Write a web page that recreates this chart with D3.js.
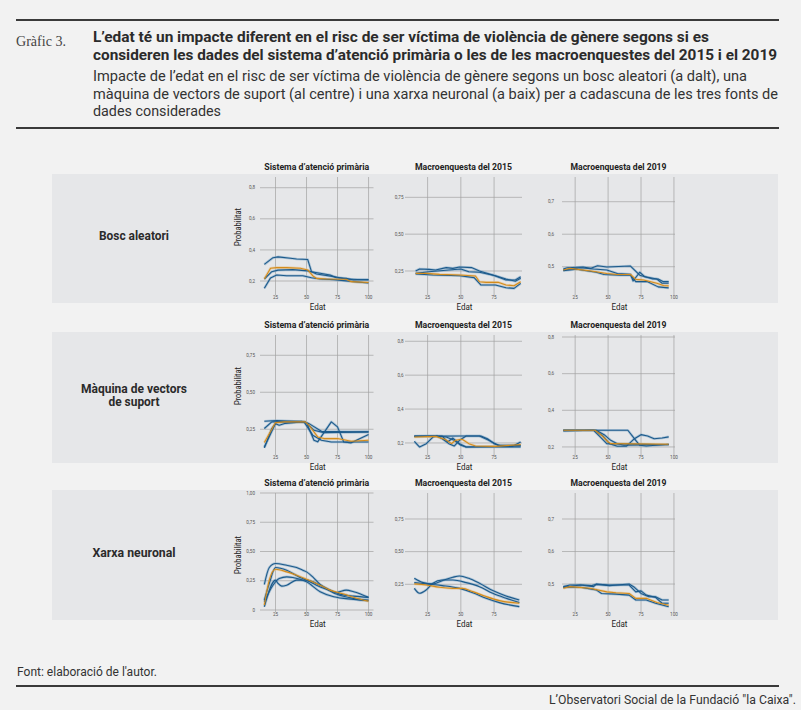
<!DOCTYPE html>
<html>
<head>
<meta charset="utf-8">
<script src="https://cdn.jsdelivr.net/npm/d3@7"></script>
<style>
  body { margin: 0; background: #f2f2f2; }
  svg { display: block; }
</style>
</head>
<body>
<div id="chart"></div>
<script>
// ---- texts ----
const titleLines = [
  "L’edat té un impacte diferent en el risc de ser víctima de violència de gènere segons si es",
  "consideren les dades del sistema d’atenció primària o les de les macroenquestes del 2015 i el 2019"
];
const subtitleLines = [
  "Impacte de l’edat en el risc de ser víctima de violència de gènere segons un bosc aleatori (a dalt), una",
  "màquina de vectors de suport (al centre) i una xarxa neuronal (a baix) per a cadascuna de les tres fonts de",
  "dades considerades"
];
const sources = ["Sistema d’atenció primària", "Macroenquesta del 2015", "Macroenquesta del 2019"];
const models = [["Bosc aleatori"], ["Màquina de vectors", "de suport"], ["Xarxa neuronal"]];

// ---- axes (ticks and extents, per column / per panel) ----
const xTicks = [[25, 50, 75, 100], [25, 50, 75], [25, 50, 75, 100]];
const xDomains = [[12.5, 104], [8, 96], [15, 100.8]];
const yTicks = [
  [[0.2, 0.4, 0.6, 0.8], [0.25, 0.5, 0.75], [0.5, 0.6, 0.7]],
  [[0.25, 0.5, 0.75], [0.2, 0.4, 0.6, 0.8], [0.2, 0.4, 0.6, 0.8]],
  [[0, 0.25, 0.5, 0.75, 1], [0.25, 0.5, 0.75], [0.5, 0.6, 0.7]]
];
const yDomains = [
  [[0.11, 0.869], [0.087, 0.888], [0.413, 0.776]],
  [[0.076, 0.887], [0.129, 0.837], [0.156, 0.811]],
  [[-0.017, 1.0], [0.038, 0.949], [0.414, 0.78]]
];

// ---- series: [edat, probabilitat] ----
// Bosc aleatori
const rfAPBlue = [
  [[16,0.307],[23,0.35],[27,0.355],[37,0.346],[42,0.342],[51,0.338],[54,0.26],[61,0.25],[69,0.239],[74,0.221],[82,0.217],[88,0.206],[100,0.21]],
  [[16,0.213],[22,0.26],[27,0.27],[39,0.273],[51,0.265],[55,0.256],[58,0.245],[72,0.228],[82,0.213],[100,0.206]],
  [[16,0.153],[21,0.22],[26,0.239],[34,0.234],[47,0.234],[54,0.221],[61,0.213],[72,0.209],[88,0.196],[100,0.187]]
];
const rfAPOrange = [[16,0.213],[21,0.282],[26,0.286],[34,0.286],[45,0.282],[51,0.271],[55,0.234],[58,0.217],[66,0.213],[82,0.211],[86,0.196],[100,0.19]];

const rfM15Blue = [
  [[16,0.25],[19,0.264],[26,0.261],[31,0.257],[39,0.273],[44,0.268],[49,0.277],[58,0.273],[64,0.25],[74,0.223],[78,0.209],[84,0.189],[91,0.189],[95,0.211]],
  [[16,0.234],[26,0.245],[41,0.257],[50,0.264],[56,0.245],[64,0.241],[76,0.218],[84,0.195],[91,0.18],[95,0.2]],
  [[16,0.23],[29,0.223],[49,0.218],[60,0.205],[65,0.155],[76,0.155],[84,0.136],[90,0.132],[95,0.166]]
];
const rfM15Orange = [[16,0.234],[24,0.234],[34,0.227],[49,0.223],[61,0.216],[64,0.177],[69,0.173],[78,0.173],[84,0.155],[90,0.15],[95,0.177]];

const rfM19Blue = [
  [[16,0.493],[19,0.497],[31,0.499],[37,0.495],[42,0.503],[49,0.499],[67,0.502],[74,0.474],[84,0.462],[88,0.462],[92,0.454],[96,0.454]],
  [[16,0.49],[29,0.497],[39,0.493],[49,0.49],[57,0.479],[67,0.477],[69,0.456],[74,0.483],[78,0.469],[87,0.462],[91,0.449],[96,0.449]],
  [[16,0.488],[26,0.492],[41,0.483],[47,0.476],[59,0.474],[67,0.474],[71,0.454],[80,0.454],[88,0.438],[96,0.435]]
];
const rfM19Orange = [[16,0.49],[21,0.495],[37,0.487],[49,0.479],[57,0.476],[67,0.476],[71,0.461],[77,0.459],[87,0.449],[92,0.442],[96,0.441]];

// Màquina de vectors de suport
const svmAPBlue = [
  [[16,0.304],[26,0.309],[49,0.3],[56,0.243],[64,0.227],[100,0.232]],
  [[16,0.13],[25,0.288],[28,0.277],[33,0.29],[46,0.3],[50,0.296],[56,0.176],[59,0.165],[70,0.3],[75,0.266],[80,0.164],[86,0.158],[100,0.214]],
  [[16,0.124],[22,0.255],[26,0.3],[48,0.3],[55,0.21],[62,0.176],[70,0.164],[100,0.164]],
  [[16,0.255],[22,0.3],[46,0.304],[52,0.288],[62,0.236],[86,0.232],[100,0.232]]
];
const svmAPOrange = [[16,0.16],[19,0.205],[25,0.295],[32,0.3],[49,0.3],[52,0.277],[59,0.198],[64,0.187],[75,0.187],[86,0.169],[100,0.176]];

const svmM15Blue = [
  [[15,0.21],[19,0.176],[24,0.196],[29,0.235],[32,0.241],[36,0.225],[41,0.196],[45,0.182],[49,0.216],[54,0.241],[65,0.241],[70,0.225],[75,0.196],[81,0.18],[89,0.18],[95,0.206]],
  [[15,0.241],[31,0.241],[39,0.235],[45,0.216],[50,0.186],[54,0.176],[95,0.182]],
  [[15,0.239],[49,0.241],[64,0.241],[71,0.216],[78,0.186],[95,0.186]],
  [[15,0.239],[36,0.241],[40,0.206],[44,0.229],[49,0.196],[54,0.176],[95,0.176]]
];
const svmM15Orange = [[15,0.235],[31,0.239],[38,0.222],[43,0.196],[46,0.216],[51,0.222],[56,0.196],[61,0.182],[76,0.18],[95,0.19]];

const svmM19Blue = [
  [[16,0.291],[65,0.291],[71,0.236],[74,0.209],[79,0.205],[96,0.215]],
  [[16,0.291],[40,0.291],[46,0.26],[51,0.218],[57,0.204],[64,0.204],[70,0.245],[75,0.267],[80,0.26],[85,0.245],[91,0.249],[96,0.255]],
  [[16,0.291],[41,0.291],[47,0.267],[52,0.236],[57,0.218],[62,0.209],[96,0.213]],
  [[16,0.287],[39,0.291],[44,0.255],[49,0.218],[96,0.212]]
];
const svmM19Orange = [[16,0.291],[40,0.291],[45,0.264],[50,0.227],[52,0.218],[96,0.215]];

// Xarxa neuronal
const nnAPBlue = [
  [[16,0.218],[20,0.363],[25,0.397],[34,0.382],[42,0.363],[47,0.34],[50,0.326],[55,0.283],[61,0.218],[69,0.17],[77,0.136],[88,0.119],[100,0.108]],
  [[16,0.085],[20,0.227],[25,0.363],[34,0.34],[44,0.283],[50,0.255],[58,0.212],[66,0.178],[74,0.15],[82,0.17],[88,0.156],[100,0.108]],
  [[16,0.028],[25,0.255],[27,0.227],[30,0.204],[34,0.212],[42,0.255],[50,0.255],[61,0.212],[74,0.136],[88,0.099],[100,0.085]],
  [[16,0.071],[23,0.212],[28,0.269],[34,0.283],[39,0.278],[50,0.241],[61,0.156],[72,0.113],[88,0.091],[100,0.079]]
];
const nnAPOrange = [[16,0.042],[20,0.255],[25,0.348],[34,0.326],[42,0.297],[50,0.263],[61,0.212],[69,0.17],[80,0.136],[91,0.099],[100,0.076]];

const nnM15Blue = [
  [[15,0.296],[21,0.265],[29,0.253],[36,0.278],[44,0.304],[49,0.314],[56,0.296],[64,0.258],[74,0.202],[84,0.161],[94,0.13]],
  [[15,0.219],[19,0.181],[24,0.207],[29,0.258],[36,0.283],[44,0.283],[54,0.263],[64,0.232],[74,0.181],[84,0.143],[94,0.11]],
  [[15,0.263],[24,0.253],[36,0.24],[49,0.219],[59,0.186],[69,0.143],[79,0.11],[94,0.079]]
];
const nnM15Orange = [[15,0.253],[24,0.245],[34,0.227],[44,0.219],[51,0.219],[59,0.194],[69,0.156],[79,0.125],[94,0.105]];

const nnM19Blue = [
  [[16,0.492],[21,0.497],[31,0.497],[37,0.495],[41,0.499],[51,0.495],[66,0.5],[70,0.49],[75,0.471],[81,0.461],[86,0.461],[91,0.451],[96,0.451]],
  [[16,0.49],[29,0.497],[39,0.492],[41,0.5],[51,0.497],[66,0.497],[71,0.476],[75,0.479],[79,0.466],[86,0.459],[91,0.441],[96,0.441]],
  [[16,0.49],[29,0.49],[41,0.482],[45,0.471],[56,0.469],[66,0.466],[71,0.451],[79,0.451],[86,0.441],[96,0.43]]
];
const nnM19Orange = [[16,0.487],[21,0.492],[36,0.487],[49,0.476],[56,0.473],[66,0.471],[71,0.456],[79,0.456],[87,0.443],[96,0.435]];

const blueSeries = [
  [rfAPBlue, rfM15Blue, rfM19Blue],
  [svmAPBlue, svmM15Blue, svmM19Blue],
  [nnAPBlue, nnM15Blue, nnM19Blue]
];
const orangeSeries = [
  [rfAPOrange, rfM15Orange, rfM19Orange],
  [svmAPOrange, svmM15Orange, svmM19Orange],
  [nnAPOrange, nnM15Orange, nnM19Orange]
];

// ---- layout ----
const W = 801, H = 710;
const SANS = "Roboto, 'Noto Sans', sans-serif";
const colRange = [[260, 373.5], [405, 522], [562, 675]];
const rowTop = [177, 335, 493];
const rowBottom = [295, 455, 612];
const yLabelGap = [5, 1.5, 8];
const probY = [227, 386, 555];
const blue = "#1c5a8b", blueHalo = "#86acca", orange = "#d38c1c";

const svg = d3.select("#chart").append("svg")
  .attr("width", W)
  .attr("height", H);

svg.append("rect").attr("width", W).attr("height", H).attr("fill", "#f2f2f2");

function label(g, txt, x, y, o) {
  const t = g.append("text")
    .attr("x", x).attr("y", y)
    .attr("font-family", o.family || SANS)
    .attr("font-size", o.size)
    .attr("font-weight", o.weight || 400)
    .attr("fill", o.fill || "#333")
    .attr("text-anchor", o.anchor || "start")
    .text(txt);
  if (o.width) t.attr("textLength", o.width).attr("lengthAdjust", "spacingAndGlyphs");
  return t;
}

// header
svg.append("rect").attr("x", 16).attr("y", 19).attr("width", 763).attr("height", 2).attr("fill", "#3a3a3a");
svg.append("rect").attr("x", 16).attr("y", 127).attr("width", 763).attr("height", 2).attr("fill", "#3a3a3a");
label(svg, "Gràfic 3.", 16, 46, {family: "'Liberation Serif', 'DejaVu Serif', serif", size: 14, fill: "#444", width: 50});
titleLines.forEach((t, i) =>
  label(svg, t, 93, 42 + i * 18, {size: 15, weight: 700, fill: "#2b2b2b", width: [616, 684][i]}));
subtitleLines.forEach((t, i) =>
  label(svg, t, 93, 81 + i * 17.5, {size: 14, fill: "#333", width: [654, 685, 128][i]}));

// footer
label(svg, "Font: elaboració de l'autor.", 17, 676, {size: 12, fill: "#333", width: 140});
svg.append("rect").attr("x", 16).attr("y", 685).attr("width", 763).attr("height", 2).attr("fill", "#3a3a3a");
label(svg, "L’Observatori Social de la Fundació \"la Caixa\".", 796, 704, {size: 12, fill: "#333", anchor: "end", width: 247});

// row strips and row labels
const modelWidths = [[70], [106, 51], [83]];
models.forEach((m, r) => {
  svg.append("rect")
    .attr("x", 52).attr("y", rowTop[r] - 3)
    .attr("width", 726).attr("height", rowBottom[r] - rowTop[r] + 11)
    .attr("fill", "#e6e7e9");
  const cy = (rowTop[r] + rowBottom[r]) / 2 + 4;
  m.forEach((line, k) => {
    const y = cy + (k - (m.length - 1) / 2) * 13;
    label(svg, line, 134, y, {size: 12, weight: 700, fill: "#2b2b2b", anchor: "middle", width: modelWidths[r][k]});
  });
});

const titleWidths = [105, 97, 96];
const line = d3.line();

for (let r = 0; r < 3; r++) {
  for (let c = 0; c < 3; c++) {
    const x = d3.scaleLinear().domain(xDomains[c]).range(colRange[c]);
    const y = d3.scaleLinear().domain(yDomains[r][c]).range([rowBottom[r], rowTop[r]]);
    const g = svg.append("g");
    const [x0, x1] = colRange[c];

    // grid
    g.selectAll(".hg").data(yTicks[r][c]).join("line")
      .attr("x1", x0).attr("x2", x1)
      .attr("y1", d => y(d)).attr("y2", d => y(d))
      .attr("stroke", "#a2a2a2").attr("stroke-width", 0.7);
    g.selectAll(".vg").data(xTicks[c]).join("line")
      .attr("x1", d => x(d)).attr("x2", d => x(d))
      .attr("y1", rowTop[r]).attr("y2", rowBottom[r])
      .attr("stroke", "#a2a2a2").attr("stroke-width", 0.7);

    // tick labels
    const fmt = yTicks[r][c].some(v => Math.round(v * 100) % 10 !== 0) || r === 2 && c === 0
      ? (v => v === 0 ? "0" : d3.format(".2f")(v).replace(".", ","))
      : (v => d3.format(".1f")(v).replace(".", ","));
    yTicks[r][c].forEach(v => {
      label(g, fmt(v), x0 - yLabelGap[c], y(v) + 1.6, {size: 4.6, fill: "#555", anchor: "end"});
    });
    xTicks[c].forEach(v => {
      label(g, String(v), x(v), rowBottom[r] + 3.6, {size: 4.6, fill: "#555", anchor: "middle"});
    });

    // panel title and axis titles
    label(g, sources[c], (x0 + x1) / 2, rowTop[r] - 7.5, {size: 9, weight: 700, fill: "#222", anchor: "middle", width: titleWidths[c]});
    label(g, "Edat", (x0 + x1) / 2 + 1, rowBottom[r] + 15, {size: 8.5, fill: "#222", anchor: "middle", width: 16});
    if (c === 0) {
      label(g, "Probabilitat", 0, 0, {size: 8.5, fill: "#222", anchor: "middle", width: 38})
        .attr("transform", `translate(241,${probY[r]}) rotate(-90)`);
    }

    // lines
    line.x(d => x(d[0])).y(d => y(d[1]))
      .curve(r === 2 && c < 2 ? d3.curveMonotoneX : d3.curveLinear);
    const all = blueSeries[r][c].map(s => ({s, col: blue, halo: blueHalo}))
      .concat([{s: orangeSeries[r][c], col: orange, halo: "#e6c089"}]);
    all.forEach(d => {
      g.append("path").attr("d", line(d.s)).attr("fill", "none")
        .attr("stroke", d.halo).attr("stroke-width", 2.6).attr("stroke-opacity", 0.6)
        .attr("stroke-linejoin", "round");
    });
    all.forEach(d => {
      g.append("path").attr("d", line(d.s)).attr("fill", "none")
        .attr("stroke", d.col).attr("stroke-width", 1.1)
        .attr("stroke-linejoin", "round");
    });
  }
}
</script>
</body>
</html>
